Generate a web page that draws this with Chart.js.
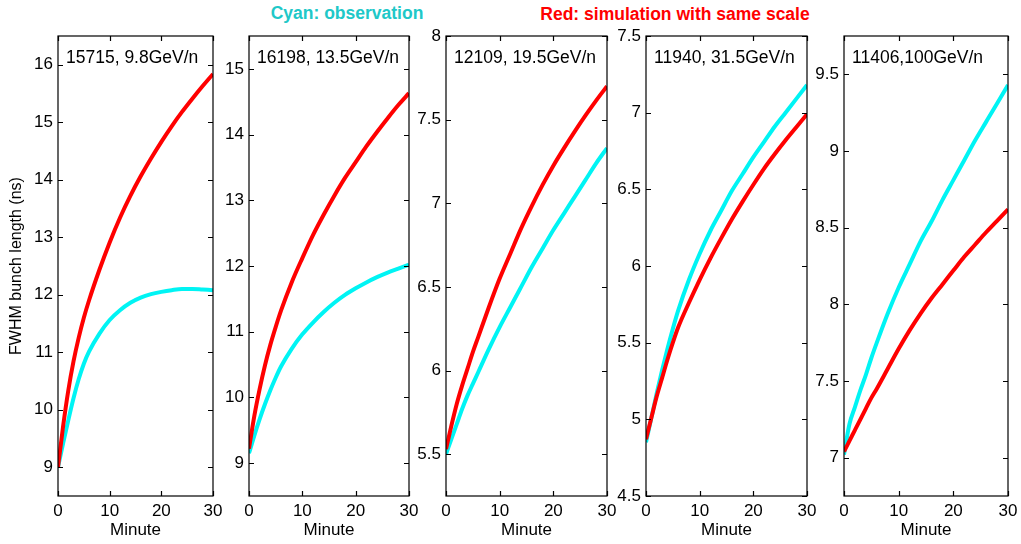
<!DOCTYPE html>
<html>
<head>
<meta charset="utf-8">
<script src="https://cdn.jsdelivr.net/npm/chart.js@4"></script>
<style>
  body { margin: 0; background: #fff; }
  #wrap { position: relative; width: 1021px; height: 544px; overflow: hidden; }
  .panel { position: absolute; top: 0; height: 544px; }
  .note { position: absolute; font-family: "Liberation Sans", Arial, sans-serif; font-weight: bold;
          font-size: 17.5px; line-height: 20px; white-space: nowrap; transform: translateX(-50%); }
</style>
</head>
<body>
<div id="wrap">
  <div class="note" style="left:347px; top:3px; color:#20c8c8;">Cyan: observation</div>
  <div class="note" style="left:675px; top:4px; color:#ff0000;">Red: simulation with same scale</div>
</div>
<script>
// -----------------------
// Data
// -----------------------
const minutes = [0, 1, 2, 3, 4, 5, 6, 8, 10, 12, 14, 16, 18, 20, 22, 24, 26, 28, 30];
const xTicks = [0, 10, 20, 30];

const runLabels = ['15715, 9.8GeV/n', '16198, 13.5GeV/n', '12109, 19.5GeV/n', '11940, 31.5GeV/n', '11406,100GeV/n'];

// simulation (red)
const sim15715 = [9.0, 9.72, 10.34, 10.84, 11.25, 11.6, 11.9, 12.43, 12.91, 13.34, 13.72, 14.06, 14.37, 14.66, 14.93, 15.18, 15.41, 15.63, 15.84];
const sim16198 = [9.22, 9.72, 10.13, 10.49, 10.8, 11.07, 11.32, 11.75, 12.12, 12.47, 12.78, 13.07, 13.34, 13.58, 13.82, 14.04, 14.25, 14.45, 14.63];
const sim12109 = [5.53, 5.67, 5.8, 5.91, 6.01, 6.11, 6.2, 6.38, 6.55, 6.7, 6.85, 6.985, 7.11, 7.225, 7.33, 7.43, 7.525, 7.615, 7.7];
const sim11940 = [4.87, 5.01, 5.15, 5.27, 5.39, 5.5, 5.6, 5.76, 5.91, 6.05, 6.18, 6.305, 6.42, 6.53, 6.635, 6.73, 6.82, 6.905, 6.99];
const sim11406 = [7.04, 7.11, 7.18, 7.25, 7.32, 7.39, 7.45, 7.58, 7.71, 7.83, 7.94, 8.04, 8.13, 8.22, 8.31, 8.39, 8.47, 8.545, 8.62];

// observation (cyan)
const obs15715 = [9.0, 9.42, 9.82, 10.2, 10.53, 10.8, 11.01, 11.32, 11.56, 11.73, 11.86, 11.95, 12.01, 12.05, 12.08, 12.1, 12.1, 12.09, 12.08];
const obs16198 = [9.15, 9.42, 9.67, 9.9, 10.11, 10.3, 10.47, 10.74, 10.96, 11.14, 11.3, 11.44, 11.56, 11.66, 11.75, 11.83, 11.9, 11.96, 12.02];
const obs12109 = [5.5, 5.59, 5.68, 5.77, 5.85, 5.92, 5.99, 6.13, 6.26, 6.38, 6.5, 6.62, 6.73, 6.84, 6.94, 7.04, 7.14, 7.24, 7.33];
const obs11940 = [4.85, 5.01, 5.17, 5.32, 5.46, 5.59, 5.71, 5.91, 6.08, 6.23, 6.36, 6.49, 6.6, 6.71, 6.81, 6.91, 7.0, 7.09, 7.18];
const obs11406 = [7.02, 7.22, 7.33, 7.44, 7.54, 7.65, 7.75, 7.94, 8.11, 8.26, 8.41, 8.54, 8.68, 8.81, 8.94, 9.07, 9.19, 9.31, 9.43];

// y-axis ranges and tick labels
const yMins = [8.5, 8.5, 5.25, 4.5, 6.75];
const yMaxs = [16.5, 15.5, 8, 7.5, 9.75];
const yTicks1 = [9, 10, 11, 12, 13, 14, 15, 16];
const yTicks2 = [9, 10, 11, 12, 13, 14, 15];
const yTicks3 = [5.5, 6, 6.5, 7, 7.5, 8];
const yTicks4 = [4.5, 5, 5.5, 6, 6.5, 7, 7.5];
const yTicks5 = [7, 7.5, 8, 8.5, 9, 9.5];

const simSeries = [sim15715, sim16198, sim12109, sim11940, sim11406];
const obsSeries = [obs15715, obs16198, obs12109, obs11940, obs11406];
const yTickSets = [yTicks1, yTicks2, yTicks3, yTicks4, yTicks5];

// panel placement: canvas left, y-axis width, plot width
const panels = [
  { left: 0,   axisW: 58, plotW: 155 },
  { left: 204, axisW: 45, plotW: 160 },
  { left: 401, axisW: 45, plotW: 161 },
  { left: 601, axisW: 45, plotW: 161 },
  { left: 799, axisW: 45, plotW: 164 }
];
const RIGHT_ROOM = 12;

const FONT = '"Liberation Sans", Arial, sans-serif';
Chart.defaults.font.family = FONT;
Chart.defaults.color = '#000';

// MATLAB-like box with inward ticks + run label
const framePlugin = {
  id: 'frame',
  afterDatasetsDraw(chart, args, opts) {
    const { ctx, chartArea: a, scales: { x, y } } = chart;
    ctx.save();
    ctx.strokeStyle = '#000';
    ctx.lineWidth = 1.2;
    ctx.beginPath();
    y.ticks.forEach(t => {
      const py = Math.round(y.getPixelForValue(t.value)) + 0.5;
      ctx.moveTo(a.left, py); ctx.lineTo(a.left + 5, py);
      ctx.moveTo(a.right, py); ctx.lineTo(a.right - 5, py);
    });
    x.ticks.forEach(t => {
      const px = Math.round(x.getPixelForValue(t.value)) + 0.5;
      ctx.moveTo(px, a.bottom); ctx.lineTo(px, a.bottom - 5);
      ctx.moveTo(px, a.top); ctx.lineTo(px, a.top + 5);
    });
    ctx.stroke();
    ctx.strokeRect(a.left, a.top, a.right - a.left, a.bottom - a.top);
    ctx.fillStyle = '#000';
    ctx.font = '17.5px ' + FONT;
    ctx.textBaseline = 'middle';
    ctx.fillText(opts.label, a.left + 8, a.top + 22);
    ctx.restore();
  }
};

const wrap = document.getElementById('wrap');

panels.forEach((p, i) => {
  const box = document.createElement('div');
  box.className = 'panel';
  box.style.left = p.left + 'px';
  box.style.width = (p.axisW + p.plotW + RIGHT_ROOM) + 'px';
  const canvas = document.createElement('canvas');
  box.appendChild(canvas);
  wrap.appendChild(box);

  new Chart(canvas.getContext('2d'), {
    type: 'line',
    data: {
      datasets: [
        {
          label: 'Simulation',
          data: minutes.map((m, k) => ({ x: m, y: simSeries[i][k] })),
          borderColor: '#ff0000',
          borderWidth: 4,
          pointRadius: 0,
          cubicInterpolationMode: 'monotone'
        },
        {
          label: 'Observation',
          data: minutes.map((m, k) => ({ x: m, y: obsSeries[i][k] })),
          borderColor: '#00f4f4',
          borderWidth: 4,
          pointRadius: 0,
          cubicInterpolationMode: 'monotone'
        }
      ]
    },
    options: {
      responsive: true,
      maintainAspectRatio: false,
      animation: false,
      events: [],
      layout: { padding: { top: 36, right: 0, left: 0, bottom: 0 } },
      plugins: {
        legend: { display: false },
        tooltip: { enabled: false },
        frame: { label: runLabels[i] }
      },
      scales: {
        x: {
          type: 'linear',
          min: 0,
          max: 30,
          grid: { display: false, drawTicks: false },
          border: { display: false },
          afterBuildTicks: s => { s.ticks = xTicks.map(v => ({ value: v })); },
          afterFit: s => { s.height = 48; s.paddingLeft = 0; s.paddingRight = RIGHT_ROOM; },
          ticks: { padding: 5, font: { size: 17 }, maxRotation: 0, callback: v => String(v) },
          title: { display: true, text: 'Minute', font: { size: 17 }, padding: { top: 0, bottom: 3 } }
        },
        y: {
          type: 'linear',
          min: yMins[i],
          max: yMaxs[i],
          grid: { display: false, drawTicks: false },
          border: { display: false },
          afterBuildTicks: s => { s.ticks = yTickSets[i].map(v => ({ value: v })); },
          afterFit: s => { s.width = p.axisW; s.paddingTop = 0; s.paddingBottom = 0; },
          ticks: { padding: 5, font: { size: 17 }, callback: v => String(v) },
          title: {
            display: i === 0,
            text: 'FWHM bunch length (ns)',
            font: { size: 16 },
            padding: { top: 7, bottom: 0 }
          }
        }
      }
    },
    plugins: [framePlugin]
  });
});
</script>
</body>
</html>
